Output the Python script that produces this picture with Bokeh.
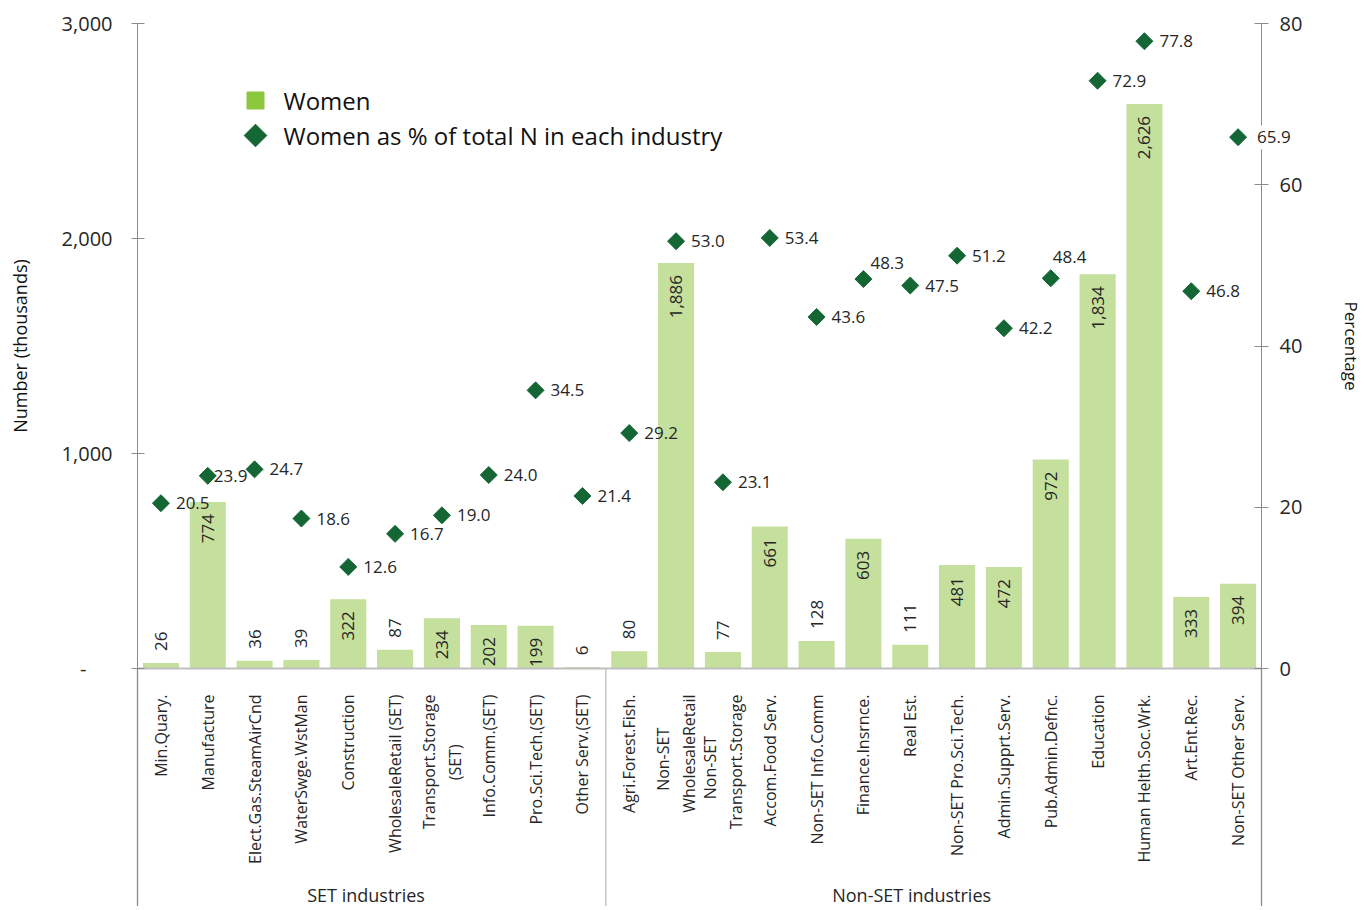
import math
from bokeh.plotting import figure
from bokeh.models import (ColumnDataSource, Range1d, LinearAxis, FixedTicker,
                          NumeralTickFormatter, Text)
from bokeh.core.properties import value
from bokeh.embed import file_html
from bokeh.resources import INLINE

# ---------------- data ----------------
industries = [
    "Min.Quary.", "Manufacture", "Elect.Gas.SteamAirCnd", "WaterSwge.WstMan",
    "Construction", "WholesaleRetail (SET)", "Transport.Storage\n(SET)",
    "Info.Comm.(SET)", "Pro.Sci.Tech.(SET)", "Other Serv.(SET)",
    "Agri.Forest.Fish.", "Non-SET\nWholesaleRetail", "Non-SET\nTransport.Storage",
    "Accom.Food Serv.", "Non-SET Info.Comm", "Finance.Insrnce.", "Real Est.",
    "Non-SET Pro.Sci.Tech.", "Admin.Supprt.Serv.", "Pub.Admin.Defnc.",
    "Education", "Human Helth.Soc.Wrk.", "Art.Ent.Rec.", "Non-SET Other Serv.",
]
women_thousands = [26, 774, 36, 39, 322, 87, 234, 202, 199, 6,
                   80, 1886, 77, 661, 128, 603, 111, 481, 472, 972,
                   1834, 2626, 333, 394]
women_pct = [20.5, 23.9, 24.7, 18.6, 12.6, 16.7, 19.0, 24.0, 34.5, 21.4,
             29.2, 53.0, 23.1, 53.4, 43.6, 48.3, 47.5, 51.2, 42.2, 48.4,
             72.9, 77.8, 46.8, 65.9]
groups = ["SET industries", "Non-SET industries"]
group_sizes = [10, 14]
left_ticks = [0, 1000, 2000, 3000]
right_ticks = [0, 20, 40, 60, 80]
series_names = ["Women", "Women as % of total N in each industry"]
y_title = "Number (thousands)"
y2_title = "Percentage"

# ---------------- style ----------------
FONT = "Open Sans"
TXT = "#262626"
BAR_COLOR = "#C5DF9C"
LEGEND_BAR_COLOR = "#8DC63F"
DIAMOND_COLOR = "#146734"
AXIS_COLOR = "#8c8c8c"
BASE_COLOR = "#bfbfbf"
SEP_COLORS = [AXIS_COLOR, "#bdbdbd", AXIS_COLOR]

W, H = 1366, 906
AX_LEFT, AX_RIGHT = 137, 1261      # pixel columns of the two value axes
TOP_PX, ZERO_PX = 23, 668          # pixel rows of the top tick and of 0
INSIDE_MIN = 150                   # bars at least this tall carry their label inside
LEGEND_PX = (255, 100)             # centre of first legend marker
LEGEND_ROW = 35
LEGEND_TEXT_DX = 28
BAR_WIDTH = 0.77
# per-point offsets of the percentage labels (pixels)
pct_dx = [15] * len(women_pct)
pct_dy = [0] * len(women_pct)
pct_dx[1] = 6
pct_dx[15], pct_dy[15] = 7, -16
pct_dx[19], pct_dy[19] = 2, -21
pct_dx[23] = 13
pct_boxed = [False] * len(women_pct)   # label drawn on an opaque white box
pct_boxed[23] = True
group_label_shift = [-0.12, -0.47]   # in category widths

# ---------------- scales ----------------
N = len(industries)
slot = (AX_RIGHT - AX_LEFT) / N
ymax = left_ticks[-1]
pmax = right_ticks[-1]
px_per_unit = (ZERO_PX - TOP_PX) / ymax
y_end = ymax + TOP_PX / px_per_unit
y_start = -(H - ZERO_PX) / px_per_unit
p_end = y_end * pmax / ymax
p_start = y_start * pmax / ymax


def x_of(px):
    return (px - AX_LEFT) / slot


def y_of(py):
    return (ZERO_PX - py) / px_per_unit


xs = [i + 0.5 for i in range(N)]   # category centres


def centred_lines(label):
    lines = label.split("\n")
    if len(lines) == 1:
        return label
    longest = max(len(s) for s in lines)
    return "\n".join(s + "\u00a0" * (longest - len(s)) for s in lines)


p = figure(width=W, height=H,
           x_range=Range1d(x_of(0), x_of(W)),
           y_range=Range1d(y_start, y_end),
           output_backend="svg", toolbar_location=None,
           min_border_left=0, min_border_right=0,
           min_border_top=0, min_border_bottom=0)
p.extra_y_ranges = {"pct": Range1d(p_start, p_end)}
p.outline_line_color = None
p.xgrid.visible = False
p.ygrid.visible = False
p.background_fill_color = "white"
p.border_fill_color = "white"

# ---------------- bars ----------------
src = ColumnDataSource(dict(x=xs, women=women_thousands, pct=women_pct))
p.vbar(x="x", top="women", width=BAR_WIDTH, source=src,
       fill_color=BAR_COLOR, line_color=None)

# baseline + group separators (from group boundaries)
bounds = [0]
for n in group_sizes:
    bounds.append(bounds[-1] + n)
p.segment(x0=[bounds[0]], y0=[0], x1=[bounds[-1]], y1=[0],
          line_color=BASE_COLOR, line_width=2)
p.segment(x0=bounds, y0=[0] * len(bounds), x1=bounds,
          y1=[y_start] * len(bounds), line_color=SEP_COLORS, line_width=1.3)

# bar value labels
ins = [i for i, v in enumerate(women_thousands) if v >= INSIDE_MIN]
out = [i for i, v in enumerate(women_thousands) if v < INSIDE_MIN]
src_in = ColumnDataSource(dict(x=[xs[i] for i in ins],
                               v=[women_thousands[i] for i in ins],
                               t=[f"{women_thousands[i]:,}" for i in ins]))
src_out = ColumnDataSource(dict(x=[xs[i] for i in out],
                                v=[women_thousands[i] for i in out],
                                t=[f"{women_thousands[i]:,}" for i in out]))
common = dict(angle=math.pi / 2, text_baseline="middle",
              text_font=value(FONT), text_font_size="17px", text_color=TXT)
p.text(x="x", y="v", text="t", source=src_in, text_align="right",
       y_offset=12, **common)
p.text(x="x", y="v", text="t", source=src_out, text_align="left",
       y_offset=-12, **common)

# ---------------- diamonds ----------------
p.scatter(x="x", y="pct", y_range_name="pct", source=src,
          marker="square", angle=math.pi / 4, size=12,
          fill_color=DIAMOND_COLOR, line_color=DIAMOND_COLOR)


def pct_source(flag):
    idx = [i for i in range(N) if pct_boxed[i] == flag]
    return ColumnDataSource(dict(x=[xs[i] for i in idx],
                                 pct=[women_pct[i] for i in idx],
                                 t=[f"{women_pct[i]:.1f}" for i in idx],
                                 dx=[pct_dx[i] for i in idx],
                                 dy=[pct_dy[i] for i in idx]))


pct_style = dict(x="x", y="pct", text="t", y_range_name="pct",
                 x_offset="dx", y_offset="dy", text_align="left",
                 text_baseline="middle", text_font=value(FONT),
                 text_font_size="17px", text_color=TXT)
p.text(source=pct_source(False), **pct_style)
box_kw = {}
if "background_fill_color" in Text.properties():
    box_kw = dict(background_fill_color="white", padding=6, level="overlay")
p.text(source=pct_source(True), **pct_style, **box_kw)

# ---------------- group labels ----------------
centers = [b + n / 2 + sh for b, n, sh in zip(bounds[:-1], group_sizes, group_label_shift)]
p.text(x=centers, y=[y_start] * len(groups), text=groups, y_offset=-12,
       text_align="center", text_baseline="middle",
       text_font=value(FONT), text_font_size="18px", text_color=TXT)

# ---------------- legend (markers + labels) ----------------
lx = x_of(LEGEND_PX[0])
ly = [y_of(LEGEND_PX[1]), y_of(LEGEND_PX[1] + LEGEND_ROW)]
p.scatter(x=[lx], y=[ly[0]], marker="square", size=17,
          fill_color=LEGEND_BAR_COLOR, line_color=LEGEND_BAR_COLOR)
p.scatter(x=[lx], y=[ly[1]], marker="square", angle=math.pi / 4, size=16,
          fill_color=DIAMOND_COLOR, line_color=DIAMOND_COLOR)
p.text(x=[lx, lx], y=ly, text=series_names, x_offset=LEGEND_TEXT_DX,
       text_align="left", text_baseline="middle",
       text_font=value(FONT), text_font_size="24px", text_color="#111111")

# ---------------- axes ----------------
xa = p.xaxis[0]
xa.fixed_location = 0
xa.ticker = FixedTicker(ticks=xs)
xa.major_label_overrides = {x: centred_lines(c) for x, c in zip(xs, industries)}
xa.axis_line_color = None
xa.major_tick_line_color = None
xa.minor_tick_line_color = None
xa.major_label_orientation = math.pi / 2
xa.major_label_standoff = 20
xa.major_label_text_font = FONT
xa.major_label_text_font_size = "16px"
xa.major_label_text_color = TXT

ya = p.yaxis[0]
ya.fixed_location = 0
ya.bounds = (left_ticks[0], left_ticks[-1])
ya.ticker = FixedTicker(ticks=left_ticks)
ya.formatter = NumeralTickFormatter(format="0,0")
ya.major_label_overrides = {0: "-" + "\u00a0" * 5}
ya.axis_line_color = AXIS_COLOR
ya.major_tick_line_color = AXIS_COLOR
ya.major_tick_in = 7
ya.major_tick_out = 6
ya.minor_tick_line_color = None
ya.major_label_standoff = 19
ya.major_label_text_font = FONT
ya.major_label_text_font_size = "20px"
ya.major_label_text_color = TXT
ya.axis_label = y_title
ya.axis_label_standoff = 27
ya.axis_label_text_font = FONT
ya.axis_label_text_font_size = "18px"
ya.axis_label_text_font_style = "normal"
ya.axis_label_text_color = "#111111"

ra = LinearAxis(y_range_name="pct", ticker=FixedTicker(ticks=right_ticks))
ra.fixed_location = N
ra.bounds = (right_ticks[0], right_ticks[-1])
ra.axis_line_color = AXIS_COLOR
ra.major_tick_line_color = AXIS_COLOR
ra.major_tick_in = 7
ra.major_tick_out = 7
ra.minor_tick_line_color = None
ra.major_label_standoff = 11
ra.major_label_text_font = FONT
ra.major_label_text_font_size = "20px"
ra.major_label_text_color = TXT
ra.axis_label = y2_title
ra.axis_label_standoff = 35
ra.axis_label_text_font = FONT
ra.axis_label_text_font_size = "17px"
ra.axis_label_text_font_style = "normal"
ra.axis_label_text_color = "#111111"
p.add_layout(ra, "right")

open("out.html", "w").write(file_html(p, INLINE))
